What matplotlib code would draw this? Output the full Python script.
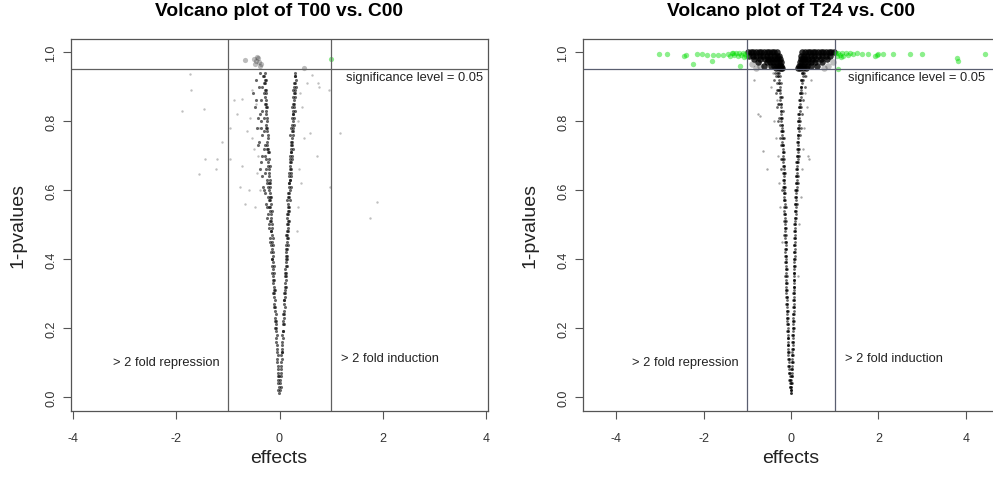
import numpy as np
import matplotlib
matplotlib.use("Agg")
import matplotlib.pyplot as plt

plt.rcParams['font.family'] = ['Liberation Sans', 'DejaVu Sans']

# ---- T00 vs C00 ----
# left arm of the funnel (effect, 1-pvalue)
t00_neg = [(-0.01,0.01),(-0.01,0.03),(-0.02,0.04),(-0.02,0.05),(-0.01,0.06),(-0.03,0.07),(-0.02,0.08),
           (-0.03,0.09),(-0.04,0.11),(-0.03,0.12),(-0.05,0.13),(-0.04,0.14),(-0.05,0.15),(-0.06,0.17),
           (-0.05,0.18),(-0.07,0.19),(-0.06,0.20),(-0.07,0.21),(-0.09,0.22),(-0.08,0.23),(-0.07,0.24),
           (-0.09,0.25),(-0.08,0.26),(-0.10,0.27),(-0.09,0.28),(-0.11,0.29),(-0.10,0.30),(-0.11,0.31),
           (-0.10,0.32),(-0.13,0.33),(-0.11,0.34),(-0.12,0.35),(-0.11,0.36),(-0.13,0.37),(-0.15,0.38),
           (-0.12,0.39),(-0.14,0.40),(-0.13,0.41),(-0.17,0.42),(-0.14,0.43),(-0.13,0.44),(-0.15,0.45),
           (-0.19,0.46),(-0.14,0.47),(-0.16,0.48),(-0.15,0.49),(-0.21,0.50),(-0.16,0.51),(-0.17,0.52),
           (-0.24,0.52),(-0.16,0.53),(-0.18,0.54),(-0.20,0.55),(-0.17,0.56),(-0.27,0.56),(-0.18,0.57),
           (-0.19,0.58),(-0.23,0.58),(-0.18,0.59),(-0.30,0.60),(-0.19,0.61),(-0.20,0.62),(-0.25,0.62),
           (-0.19,0.63),(-0.33,0.64),(-0.21,0.65),(-0.20,0.66),(-0.27,0.66),(-0.22,0.67),(-0.36,0.68),
           (-0.21,0.69),(-0.29,0.70),(-0.22,0.71),(-0.23,0.72),(-0.31,0.72),(-0.24,0.73),(-0.40,0.74),
           (-0.23,0.75),(-0.33,0.76),(-0.24,0.77),(-0.25,0.78),(-0.44,0.78),(-0.26,0.79),(-0.35,0.80),
           (-0.25,0.81),(-0.38,0.82),(-0.26,0.83),(-0.27,0.84),(-0.48,0.84),(-0.26,0.85),(-0.36,0.86),
           (-0.28,0.87),(-0.27,0.88),(-0.52,0.88),(-0.29,0.89),(-0.40,0.90),(-0.28,0.91),(-0.29,0.92),
           (-0.45,0.92),(-0.30,0.93),(-0.37,0.94),
           (-0.02,0.02),(-0.03,0.06),(-0.04,0.10),(-0.06,0.16),(-0.08,0.20),(-0.07,0.22),(-0.10,0.26),
           (-0.12,0.30),(-0.09,0.31),(-0.12,0.34),(-0.14,0.36),(-0.11,0.38),(-0.15,0.40),(-0.12,0.42),
           (-0.16,0.44),(-0.18,0.45),(-0.13,0.46),(-0.17,0.48),(-0.20,0.49),(-0.15,0.50),(-0.18,0.51),
           (-0.22,0.53),(-0.15,0.54),(-0.19,0.55),(-0.25,0.55),(-0.21,0.57),(-0.17,0.58),(-0.28,0.59),
           (-0.20,0.60),(-0.22,0.61),(-0.32,0.61),(-0.18,0.62),(-0.24,0.63),(-0.21,0.64),(-0.29,0.65),
           (-0.38,0.66),(-0.19,0.67),(-0.23,0.68),(-0.26,0.69),(-0.34,0.70),(-0.20,0.71),(-0.24,0.72),
           (-0.28,0.73),(-0.42,0.73),(-0.25,0.74),(-0.22,0.76),(-0.30,0.77),(-0.36,0.78),(-0.26,0.78),
           (-0.24,0.80),(-0.30,0.81),(-0.41,0.81),(-0.27,0.82),(-0.33,0.83),(-0.25,0.84),(-0.29,0.85),
           (-0.45,0.86),(-0.27,0.86),(-0.31,0.88),(-0.26,0.89),(-0.34,0.90),(-0.30,0.91),(-0.27,0.92),
           (-0.32,0.93),(-0.28,0.94)]
# right arm of the funnel
t00_pos = [(0.01,0.02),(0.02,0.03),(0.01,0.05),(0.02,0.06),(0.03,0.07),(0.02,0.09),(0.03,0.10),(0.04,0.11),
           (0.03,0.12),(0.05,0.13),(0.04,0.15),(0.05,0.16),(0.06,0.17),(0.05,0.18),(0.07,0.19),(0.06,0.21),
           (0.07,0.22),(0.08,0.23),(0.07,0.24),(0.09,0.25),(0.08,0.27),(0.09,0.28),(0.10,0.29),(0.09,0.30),
           (0.11,0.31),(0.10,0.32),(0.11,0.33),(0.12,0.34),(0.10,0.35),(0.12,0.36),(0.11,0.37),(0.13,0.38),
           (0.12,0.39),(0.14,0.40),(0.12,0.41),(0.13,0.42),(0.15,0.43),(0.13,0.44),(0.14,0.45),(0.16,0.46),
           (0.14,0.47),(0.15,0.48),(0.17,0.49),(0.15,0.50),(0.16,0.51),(0.14,0.52),(0.17,0.53),(0.16,0.54),
           (0.18,0.55),(0.17,0.56),(0.15,0.57),(0.18,0.58),(0.17,0.59),(0.20,0.60),(0.18,0.61),(0.19,0.62),
           (0.21,0.63),(0.19,0.64),(0.22,0.65),(0.20,0.66),(0.21,0.67),(0.23,0.68),(0.21,0.69),(0.24,0.70),
           (0.22,0.71),(0.23,0.72),(0.25,0.73),(0.22,0.74),(0.24,0.75),(0.26,0.76),(0.24,0.77),(0.27,0.78),
           (0.25,0.79),(0.26,0.80),(0.28,0.81),(0.26,0.82),(0.27,0.83),(0.29,0.84),(0.27,0.85),(0.28,0.86),
           (0.30,0.87),(0.28,0.88),(0.31,0.89),(0.29,0.90),(0.30,0.91),(0.32,0.92),(0.30,0.93),(0.31,0.94),
           (0.01,0.04),(0.03,0.08),(0.04,0.13),(0.05,0.14),(0.06,0.19),(0.08,0.21),(0.09,0.24),(0.10,0.26),
           (0.08,0.28),(0.11,0.30),(0.12,0.32),(0.13,0.35),(0.11,0.36),(0.14,0.38),(0.12,0.40),(0.15,0.41),
           (0.13,0.43),(0.16,0.44),(0.15,0.46),(0.13,0.47),(0.17,0.48),(0.16,0.50),(0.18,0.51),(0.15,0.53),
           (0.19,0.54),(0.16,0.55),(0.20,0.57),(0.16,0.58),(0.19,0.59),(0.22,0.61),(0.18,0.62),(0.20,0.63),
           (0.23,0.64),(0.19,0.65),(0.22,0.66),(0.20,0.68),(0.25,0.69),(0.21,0.70),(0.23,0.71),(0.26,0.72),
           (0.23,0.73),(0.25,0.74),(0.21,0.76),(0.27,0.77),(0.23,0.78),(0.28,0.79),(0.24,0.81),(0.27,0.82),
           (0.30,0.83),(0.25,0.84),(0.29,0.85),(0.26,0.87),(0.30,0.88),(0.27,0.89),(0.32,0.90),(0.28,0.91),
           (0.31,0.93)]
# loose points away from the arms
t00_loose = [(-1.73,0.936),(-1.71,0.89),(-1.89,0.83),(-1.46,0.835),(-1.12,0.74),(-1.44,0.69),(-1.21,0.69),
             (-1.24,0.66),(-1.56,0.645),(-0.96,0.78),(-0.96,0.69),(-0.89,0.86),(-0.83,0.82),(-0.73,0.865),
             (-0.63,0.77),(-0.73,0.67),(-0.76,0.61),(-0.66,0.56),(-0.53,0.89),(-0.57,0.81),(-0.50,0.72),
             (-0.44,0.65),(-0.53,0.75),(-0.60,0.60),(-0.48,0.55),(-0.42,0.70),(-0.45,0.85),(-0.38,0.60),
             (-0.40,0.78),(0.98,0.61),(1.18,0.765),(0.96,0.89),(0.75,0.91),(0.63,0.935),(1.89,0.566),
             (1.76,0.52),(0.60,0.765),(0.73,0.70),(0.53,0.91),(0.76,0.90),(0.47,0.75),(0.43,0.84),
             (0.40,0.88),(0.38,0.66),(0.35,0.55),(0.42,0.62),(0.33,0.48),(0.36,0.80)]
# significant, below 2 fold
t00_sig = [(-0.66,0.978),(-0.50,0.98),(-0.45,0.975),(-0.42,0.982),(-0.40,0.97),(-0.47,0.965),
           (-0.38,0.96),(-0.44,0.985),(-0.35,0.965),(0.47,0.953)]
# significant, above 2 fold
t00_fold = [(1.0,0.98)]

# ---- T24 vs C00 ----
t24_neg = [(-0.00,0.01),(-0.01,0.01),(-0.01,0.03),(-0.02,0.03),(-0.02,0.03),(-0.03,0.05),(-0.02,0.05),(-0.04,0.05),
           (-0.04,0.07),(-0.03,0.07),(-0.05,0.07),(-0.05,0.09),(-0.04,0.09),(-0.06,0.09),(-0.05,0.11),(-0.06,0.11),
           (-0.04,0.11),(-0.06,0.13),(-0.05,0.13),(-0.07,0.13),(-0.07,0.15),(-0.06,0.15),(-0.08,0.15),(-0.07,0.17),
           (-0.08,0.17),(-0.06,0.17),(-0.08,0.19),(-0.07,0.19),(-0.09,0.19),(-0.08,0.21),(-0.09,0.21),(-0.07,0.21),
           (-0.09,0.23),(-0.08,0.23),(-0.10,0.23),(-0.09,0.25),(-0.10,0.25),(-0.08,0.25),(-0.10,0.27),(-0.09,0.27),
           (-0.11,0.27),(-0.10,0.29),(-0.11,0.29),(-0.09,0.29),(-0.10,0.31),(-0.11,0.31),(-0.12,0.31),(-0.11,0.33),
           (-0.10,0.33),(-0.12,0.33),(-0.11,0.35),(-0.10,0.35),(-0.13,0.35),(-0.11,0.37),(-0.12,0.37),(-0.10,0.37),
           (-0.11,0.39),(-0.12,0.39),(-0.14,0.39),(-0.12,0.41),(-0.11,0.41),(-0.13,0.41),(-0.12,0.43),(-0.13,0.43),
           (-0.11,0.43),(-0.12,0.45),(-0.14,0.45),(-0.11,0.45),(-0.13,0.47),(-0.12,0.47),(-0.15,0.47),(-0.13,0.49),
           (-0.14,0.49),(-0.12,0.49),(-0.13,0.51),(-0.15,0.51),(-0.12,0.51),(-0.14,0.53),(-0.13,0.53),(-0.16,0.53),
           (-0.14,0.55),(-0.15,0.55),(-0.12,0.55),(-0.15,0.57),(-0.14,0.57),(-0.17,0.57),(-0.15,0.59),(-0.16,0.59),
           (-0.13,0.59),(-0.15,0.61),(-0.17,0.61),(-0.14,0.61),(-0.19,0.61),(-0.16,0.63),(-0.15,0.63),(-0.18,0.63),
           (-0.17,0.65),(-0.16,0.65),(-0.19,0.65),(-0.14,0.65),(-0.17,0.67),(-0.18,0.67),(-0.15,0.67),(-0.18,0.69),
           (-0.17,0.69),(-0.20,0.69),(-0.22,0.69),(-0.18,0.71),(-0.19,0.71),(-0.16,0.71),(-0.19,0.73),(-0.18,0.73),
           (-0.21,0.73),(-0.24,0.73),(-0.20,0.75),(-0.19,0.75),(-0.17,0.75),(-0.20,0.77),(-0.21,0.77),(-0.23,0.77),
           (-0.18,0.77),(-0.21,0.79),(-0.20,0.79),(-0.25,0.79),(-0.22,0.81),(-0.21,0.81),(-0.24,0.81),(-0.27,0.81),
           (-0.23,0.83),(-0.22,0.83),(-0.19,0.83),(-0.24,0.85),(-0.23,0.85),(-0.27,0.85),(-0.30,0.85),(-0.25,0.87),
           (-0.24,0.87),(-0.21,0.87),(-0.26,0.89),(-0.27,0.89),(-0.30,0.89),(-0.33,0.89),(-0.28,0.91),(-0.27,0.91),
           (-0.24,0.91),(-0.32,0.91),(-0.29,0.93),(-0.30,0.93),(-0.26,0.93),(-0.34,0.93),(-0.31,0.94),(-0.28,0.94),
           (-0.36,0.94),
           (-0.01,0.02),(-0.02,0.04),(-0.03,0.06),(-0.04,0.08),(-0.05,0.10),(-0.06,0.12),(-0.06,0.14),(-0.07,0.16),
           (-0.08,0.18),(-0.08,0.20),(-0.09,0.22),(-0.09,0.24),(-0.10,0.26),(-0.10,0.28),(-0.11,0.30),(-0.11,0.32),
           (-0.12,0.34),(-0.11,0.36),(-0.12,0.38),(-0.12,0.40),(-0.13,0.42),(-0.12,0.44),(-0.13,0.46),(-0.14,0.48),
           (-0.13,0.50),(-0.14,0.52),(-0.15,0.54),(-0.14,0.56),(-0.16,0.58),(-0.15,0.60),(-0.16,0.62),(-0.17,0.64),
           (-0.16,0.66),(-0.18,0.68),(-0.19,0.70),(-0.18,0.72),(-0.20,0.74),(-0.21,0.76),(-0.20,0.78),(-0.22,0.80),
           (-0.23,0.82),(-0.22,0.84),(-0.25,0.86),(-0.26,0.88),(-0.25,0.90),(-0.28,0.92),(-0.30,0.94),(-0.21,0.60),
           (-0.24,0.66),(-0.26,0.75),(-0.29,0.80),(-0.31,0.84),(-0.35,0.88),(-0.38,0.92)]
t24_pos = [(0.00,0.02),(0.01,0.02),(0.01,0.04),(0.02,0.04),(0.00,0.04),(0.02,0.06),(0.01,0.06),(0.03,0.06),
           (0.02,0.08),(0.03,0.08),(0.01,0.08),(0.03,0.10),(0.02,0.10),(0.04,0.10),(0.03,0.12),(0.04,0.12),
           (0.02,0.12),(0.04,0.14),(0.03,0.14),(0.05,0.14),(0.04,0.16),(0.05,0.16),(0.03,0.16),(0.04,0.18),
           (0.05,0.18),(0.03,0.18),(0.05,0.20),(0.04,0.20),(0.06,0.20),(0.05,0.22),(0.04,0.22),(0.06,0.22),
           (0.05,0.24),(0.06,0.24),(0.04,0.24),(0.06,0.26),(0.05,0.26),(0.07,0.26),(0.06,0.28),(0.05,0.28),
           (0.07,0.28),(0.06,0.30),(0.07,0.30),(0.05,0.30),(0.07,0.32),(0.06,0.32),(0.08,0.32),(0.07,0.34),
           (0.06,0.34),(0.08,0.34),(0.07,0.36),(0.08,0.36),(0.06,0.36),(0.08,0.38),(0.07,0.38),(0.09,0.38),
           (0.08,0.40),(0.07,0.40),(0.09,0.40),(0.08,0.42),(0.09,0.42),(0.07,0.42),(0.08,0.44),(0.09,0.44),
           (0.07,0.44),(0.09,0.46),(0.08,0.46),(0.10,0.46),(0.09,0.48),(0.08,0.48),(0.10,0.48),(0.09,0.50),
           (0.10,0.50),(0.08,0.50),(0.10,0.52),(0.09,0.52),(0.11,0.52),(0.10,0.54),(0.09,0.54),(0.11,0.54),
           (0.10,0.56),(0.11,0.56),(0.09,0.56),(0.13,0.56),(0.11,0.58),(0.10,0.58),(0.12,0.58),(0.11,0.60),
           (0.12,0.60),(0.10,0.60),(0.14,0.60),(0.12,0.62),(0.11,0.62),(0.13,0.62),(0.12,0.64),(0.13,0.64),
           (0.11,0.64),(0.15,0.64),(0.13,0.66),(0.12,0.66),(0.14,0.66),(0.13,0.68),(0.14,0.68),(0.12,0.68),
           (0.17,0.68),(0.14,0.70),(0.13,0.70),(0.15,0.70),(0.15,0.72),(0.14,0.72),(0.16,0.72),(0.19,0.72),
           (0.15,0.74),(0.16,0.74),(0.13,0.74),(0.16,0.76),(0.15,0.76),(0.17,0.76),(0.20,0.76),(0.17,0.78),
           (0.16,0.78),(0.18,0.78),(0.17,0.80),(0.18,0.80),(0.16,0.80),(0.21,0.80),(0.18,0.82),(0.19,0.82),
           (0.17,0.82),(0.19,0.84),(0.20,0.84),(0.18,0.84),(0.23,0.84),(0.20,0.86),(0.21,0.86),(0.19,0.86),
           (0.21,0.88),(0.22,0.88),(0.20,0.88),(0.26,0.88),(0.23,0.90),(0.22,0.90),(0.24,0.90),(0.24,0.92),
           (0.25,0.92),(0.23,0.92),(0.28,0.92),(0.26,0.94),(0.25,0.94),(0.27,0.94),(0.30,0.94),
           (0.00,0.03),(0.01,0.05),(0.02,0.07),(0.02,0.09),(0.03,0.11),(0.03,0.13),(0.04,0.15),(0.04,0.17),
           (0.05,0.19),(0.05,0.21),(0.05,0.23),(0.06,0.25),(0.06,0.27),(0.07,0.29),(0.07,0.31),(0.07,0.33),
           (0.08,0.35),(0.08,0.37),(0.08,0.39),(0.09,0.41),(0.09,0.43),(0.09,0.45),(0.10,0.47),(0.10,0.49),
           (0.10,0.51),(0.11,0.53),(0.11,0.55),(0.12,0.57),(0.12,0.59),(0.13,0.61),(0.13,0.63),(0.14,0.65),
           (0.14,0.67),(0.15,0.69),(0.16,0.71),(0.16,0.73),(0.17,0.75),(0.18,0.77),(0.18,0.79),(0.19,0.81),
           (0.20,0.83),(0.21,0.85),(0.22,0.87),(0.23,0.89),(0.25,0.91),(0.27,0.93),(0.16,0.62),(0.19,0.70),
           (0.22,0.78),(0.25,0.82),(0.28,0.86),(0.31,0.90),(0.33,0.93)]
t24_loose = [(-0.85,0.92),(-0.75,0.82),(-0.56,0.66),(-0.70,0.815),(-0.64,0.714),(0.39,0.70),(0.41,0.69),
             (-0.33,0.86),(-0.38,0.80),(-0.35,0.75),(-0.30,0.70),(-0.28,0.62),(0.33,0.88),(0.36,0.84),
             (0.30,0.78),(0.28,0.72),(0.25,0.66),(0.22,0.58),(0.45,0.92),(0.35,0.93),(-0.45,0.90),
             (-0.42,0.94),(-0.25,0.55),(0.18,0.50),(-0.20,0.45),(0.15,0.35)]
# significant, below 2 fold (the black shoulders)
t24_sig = [(-0.98,1.0),(-0.92,1.0),(-0.86,1.0),(-0.80,1.0),(-0.74,1.0),(-0.68,1.0),(-0.62,1.0),(-0.56,1.0),
           (-0.50,1.0),(-0.44,1.0),(-0.38,1.0),(-0.32,1.0),
           (-0.95,0.99),(-0.88,0.99),(-0.80,0.99),(-0.72,0.99),(-0.64,0.99),(-0.56,0.99),(-0.48,0.99),
           (-0.40,0.99),(-0.33,0.99),(-0.28,0.99),
           (-0.85,0.98),(-0.70,0.98),(-0.60,0.98),(-0.52,0.98),(-0.45,0.98),(-0.38,0.98),(-0.31,0.98),(-0.26,0.98),
           (-0.75,0.97),(-0.55,0.97),(-0.48,0.97),(-0.41,0.97),(-0.34,0.97),(-0.28,0.97),(-0.24,0.97),
           (-0.62,0.96),(-0.45,0.96),(-0.38,0.96),(-0.31,0.96),(-0.26,0.96),(-0.22,0.96),
           (-0.35,0.955),(-0.28,0.955),(-0.23,0.955),(-0.20,0.955),
           (0.26,1.0),(0.32,1.0),(0.38,1.0),(0.44,1.0),(0.50,1.0),(0.56,1.0),(0.62,1.0),(0.68,1.0),
           (0.74,1.0),(0.80,1.0),(0.86,1.0),(0.92,1.0),(0.98,1.0),
           (0.24,0.99),(0.30,0.99),(0.37,0.99),(0.45,0.99),(0.53,0.99),(0.61,0.99),(0.70,0.99),(0.80,0.99),(0.90,0.99),
           (0.22,0.98),(0.27,0.98),(0.33,0.98),(0.40,0.98),(0.48,0.98),(0.57,0.98),(0.68,0.98),(0.82,0.98),
           (0.20,0.97),(0.25,0.97),(0.31,0.97),(0.38,0.97),(0.46,0.97),(0.56,0.97),(0.72,0.97),
           (0.18,0.96),(0.23,0.96),(0.29,0.96),(0.36,0.96),(0.45,0.96),(0.60,0.96),
           (0.17,0.955),(0.21,0.955),(0.27,0.955),(0.34,0.955)]
t24_sig_light = [(-0.90,0.965),(-0.80,0.955),(-0.70,0.96),(0.85,0.96),(0.75,0.955),(0.95,0.97)]
# significant, above 2 fold (green)
t24_fold = [(-3.01,0.994),(-2.84,0.994),(-2.45,0.989),(-2.40,0.992),(-2.25,0.965),(-2.16,0.995),(-2.04,0.995),
            (-1.93,0.993),(-1.81,0.973),(-1.78,0.993),(-1.67,0.993),(-1.56,0.991),(-1.44,0.995),(-1.40,0.99),
            (-1.35,0.997),(-1.30,0.993),(-1.26,0.998),(-1.22,0.99),(-1.18,0.996),(-1.14,0.993),(-1.10,0.998),
            (-1.06,0.995),(-1.03,0.99),(-1.17,0.959),(-1.33,0.997),(-1.08,0.985),
            (1.02,0.996),(1.05,0.99),(1.08,0.998),(1.12,0.993),(1.16,0.997),(1.20,0.99),(1.25,0.996),
            (1.30,0.993),(1.35,0.997),(1.42,0.994),(1.50,0.996),(1.62,0.995),(1.77,0.995),(1.92,0.99),
            (1.96,0.993),(2.0,0.995),(2.1,0.995),(2.34,0.995),(2.72,0.995),(2.99,0.995),(3.79,0.982),
            (3.83,0.975),(4.44,0.995),(1.08,0.95),(1.15,0.985)]

xticks = [-4, -2, 0, 2, 4]
yticks = [0.0, 0.2, 0.4, 0.6, 0.8, 1.0]


def pts(a):
    a = np.array(a)
    return a[:, 0], a[:, 1]


fig = plt.figure(figsize=(9.93, 4.81), dpi=100)
W, H = 993.0, 481.0
ax1 = fig.add_axes([71 / W, 69 / H, 417 / W, 372 / H])
ax2 = fig.add_axes([583 / W, 69 / H, 416 / W, 372 / H])


def setup(ax, xlim, linecol):
    ax.set_xlim(*xlim)
    ax.set_ylim(-0.041, 1.038)
    for s in ax.spines.values():
        s.set_color('#555555')
        s.set_linewidth(0.9)
    ax.set_xticks(xticks)
    ax.set_xticklabels([str(t) for t in xticks])
    ax.set_yticks(yticks)
    ax.set_yticklabels(['%.1f' % t for t in yticks], rotation=90, va='center')
    ax.tick_params(direction='out', length=6, width=0.8, color='#555555',
                   labelsize=9, labelcolor='#333333')
    ax.tick_params(axis='x', pad=9)
    ax.tick_params(axis='y', pad=4)
    ax.axhline(0.95, color=linecol, lw=0.9)
    ax.axvline(-1, color=linecol, lw=0.9)
    ax.axvline(1, color=linecol, lw=0.9)


setup(ax1, (-4.04, 4.04), '#606060')
setup(ax2, (-4.76, 4.76), '#5a5f70')

# left panel points
for arr in (t00_neg, t00_pos):
    x, y = pts(arr)
    ax1.scatter(x, y, s=5, c='black', alpha=0.6, linewidths=0)
x, y = pts(t00_loose)
ax1.scatter(x, y, s=3, c='black', alpha=0.25, linewidths=0)
x, y = pts(t00_sig)
ax1.scatter(x, y, s=14, c='#404040', alpha=0.35, linewidths=0)
x, y = pts(t00_fold)
ax1.scatter(x, y, s=14, c='#00cc00', alpha=0.45, linewidths=0)

# right panel points
for arr in (t24_neg, t24_pos):
    x, y = pts(arr)
    ax2.scatter(x, y, s=4, c='black', alpha=0.6, linewidths=0)
x, y = pts(t24_loose)
ax2.scatter(x, y, s=3, c='black', alpha=0.35, linewidths=0)
x, y = pts(t24_sig)
ax2.scatter(x, y, s=22, c='black', alpha=0.8, linewidths=0)
x, y = pts(t24_sig_light)
ax2.scatter(x, y, s=22, c='black', alpha=0.25, linewidths=0)
x, y = pts(t24_fold)
ax2.scatter(x, y, s=15, c='#00dd00', alpha=0.45, linewidths=0)

txt = dict(fontsize=9.3, color='#222222', ha='center', va='center')
ax1.text(2.61, 0.927, 'significance level = 0.05', **txt)
ax1.text(-2.19, 0.10, '> 2 fold repression', **txt)
ax1.text(2.14, 0.113, '> 2 fold induction', **txt)
ax2.text(2.87, 0.927, 'significance level = 0.05', **txt)
ax2.text(-2.42, 0.10, '> 2 fold repression', **txt)
ax2.text(2.36, 0.113, '> 2 fold induction', **txt)

fig.text(279 / W, 1 - 12 / H, 'Volcano plot of T00 vs. C00', fontsize=13.8, fontweight='bold',
         ha='center', va='center')
fig.text(791 / W, 1 - 12 / H, 'Volcano plot of T24 vs. C00', fontsize=13.8, fontweight='bold',
         ha='center', va='center')
fig.text(279 / W, 1 - 459 / H, 'effects', fontsize=14, ha='center', va='center', color='#222222')
fig.text(791 / W, 1 - 459 / H, 'effects', fontsize=14, ha='center', va='center', color='#222222')
fig.text(18 / W, 1 - 226 / H, '1-pvalues', fontsize=14, rotation=90, ha='center', va='center', color='#222222')
fig.text(530 / W, 1 - 226 / H, '1-pvalues', fontsize=14, rotation=90, ha='center', va='center', color='#222222')

fig.savefig('out.png', dpi=100)
